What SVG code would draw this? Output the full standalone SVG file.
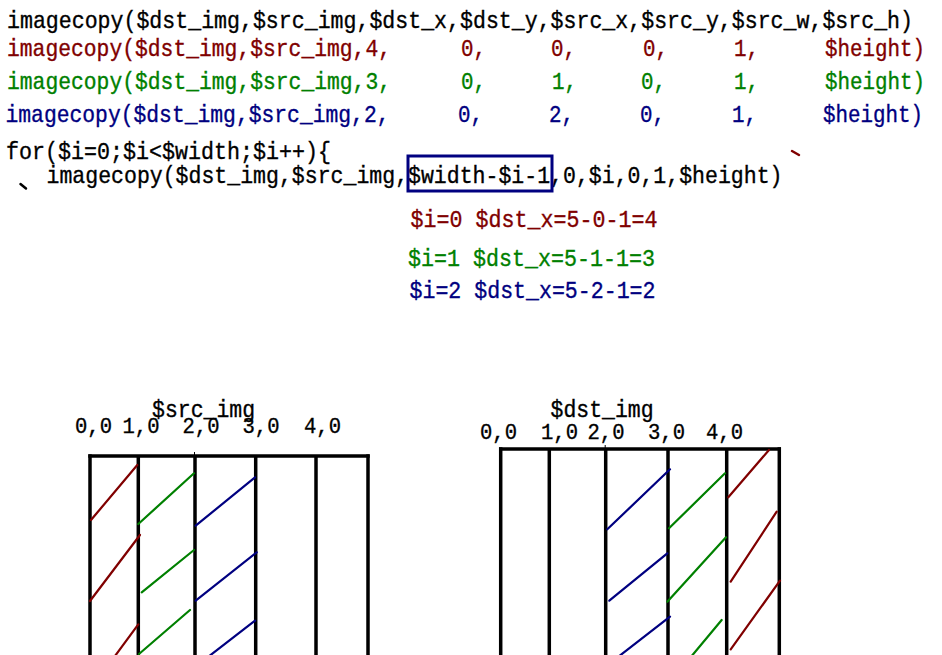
<svg xmlns="http://www.w3.org/2000/svg" width="942" height="655" viewBox="0 0 942 655">
<style>
text{font-family:"Liberation Mono","DejaVu Sans Mono",monospace;font-size:24px;stroke-width:0.35;}
text.lbl{font-size:22px;}
.k{fill:#000000;stroke:#000000}
.r{fill:#800000;stroke:#800000}
.g{fill:#008000;stroke:#008000}
.b{fill:#000080;stroke:#000080}
.grid line{stroke:#000;stroke-width:3.5}
.tick{stroke:#000;stroke-width:1}
.dr{stroke:#800000;stroke-width:2.2;stroke-linecap:round}
.dg{stroke:#008000;stroke-width:2.2;stroke-linecap:round}
.db{stroke:#000080;stroke-width:2.2;stroke-linecap:round}
</style>
<rect width="942" height="655" fill="#ffffff"/>
<g id="code">
<text class="k" x="7" y="27.5" textLength="906" lengthAdjust="spacingAndGlyphs">imagecopy($dst_img,$src_img,$dst_x,$dst_y,$src_x,$src_y,$src_w,$src_h)</text>
<g class="r">
<text x="7" y="56" textLength="384" lengthAdjust="spacingAndGlyphs">imagecopy($dst_img,$src_img,4,</text>
<text x="461" y="56" textLength="25" lengthAdjust="spacingAndGlyphs">0,</text>
<text x="551" y="56" textLength="25" lengthAdjust="spacingAndGlyphs">0,</text>
<text x="643" y="56" textLength="25" lengthAdjust="spacingAndGlyphs">0,</text>
<text x="734" y="56" textLength="25" lengthAdjust="spacingAndGlyphs">1,</text>
<text x="825" y="56" textLength="100" lengthAdjust="spacingAndGlyphs">$height)</text>
</g>
<g class="g">
<text x="7" y="89" textLength="384" lengthAdjust="spacingAndGlyphs">imagecopy($dst_img,$src_img,3,</text>
<text x="461" y="89" textLength="25" lengthAdjust="spacingAndGlyphs">0,</text>
<text x="552" y="89" textLength="25" lengthAdjust="spacingAndGlyphs">1,</text>
<text x="641" y="89" textLength="25" lengthAdjust="spacingAndGlyphs">0,</text>
<text x="734" y="89" textLength="25" lengthAdjust="spacingAndGlyphs">1,</text>
<text x="825" y="89" textLength="100" lengthAdjust="spacingAndGlyphs">$height)</text>
</g>
<g class="b">
<text x="5.5" y="122" textLength="384" lengthAdjust="spacingAndGlyphs">imagecopy($dst_img,$src_img,2,</text>
<text x="458" y="122" textLength="25" lengthAdjust="spacingAndGlyphs">0,</text>
<text x="549" y="122" textLength="25" lengthAdjust="spacingAndGlyphs">2,</text>
<text x="640" y="122" textLength="25" lengthAdjust="spacingAndGlyphs">0,</text>
<text x="732" y="122" textLength="25" lengthAdjust="spacingAndGlyphs">1,</text>
<text x="823" y="122" textLength="100" lengthAdjust="spacingAndGlyphs">$height)</text>
</g>
<text class="k" x="6" y="159" textLength="325" lengthAdjust="spacingAndGlyphs">for($i=0;$i&lt;$width;$i++){</text>
<text class="k" x="46.5" y="183" textLength="736" lengthAdjust="spacingAndGlyphs">imagecopy($dst_img,$src_img,$width-$i-1,0,$i,0,1,$height)</text>
<rect x="408" y="156" width="144" height="35" fill="none" stroke="#000080" stroke-width="3"/>
</g>
<g id="calc">
<text class="r" x="410.5" y="227" textLength="247" lengthAdjust="spacingAndGlyphs">$i=0 $dst_x=5-0-1=4</text>
<text class="g" x="408" y="266" textLength="247" lengthAdjust="spacingAndGlyphs">$i=1 $dst_x=5-1-1=3</text>
<text class="b" x="409.5" y="298" textLength="246" lengthAdjust="spacingAndGlyphs">$i=2 $dst_x=5-2-1=2</text>
</g>
<g id="marks">
<line x1="20.5" y1="184" x2="26" y2="188.5" stroke="#000" stroke-width="2.5" stroke-linecap="round"/>
<line x1="792" y1="151" x2="799" y2="155" stroke="#800000" stroke-width="2.5" stroke-linecap="round"/>
</g>
<g id="src_img">
<text class="k" x="152" y="417" textLength="103" lengthAdjust="spacingAndGlyphs">$src_img</text>
<text class="k lbl" x="75" y="433" textLength="37" lengthAdjust="spacingAndGlyphs">0,0</text>
<text class="k lbl" x="122.5" y="433" textLength="37" lengthAdjust="spacingAndGlyphs">1,0</text>
<text class="k lbl" x="182.5" y="433" textLength="37" lengthAdjust="spacingAndGlyphs">2,0</text>
<text class="k lbl" x="242.5" y="433" textLength="37" lengthAdjust="spacingAndGlyphs">3,0</text>
<text class="k lbl" x="304" y="433" textLength="37" lengthAdjust="spacingAndGlyphs">4,0</text>
<g class="grid">
<line x1="88.3" y1="456" x2="369.7" y2="456"/>
<line x1="90" y1="454.3" x2="90" y2="655"/>
<line x1="138.3" y1="456" x2="138.3" y2="655"/>
<line x1="195" y1="456" x2="195" y2="655"/>
<line x1="255.7" y1="456" x2="255.7" y2="655"/>
<line x1="316" y1="456" x2="316" y2="655"/>
<line x1="368" y1="454.3" x2="368" y2="655"/>
</g>
<line class="tick" x1="194.5" y1="452" x2="194.5" y2="456"/>
<line class="dr" x1="91" y1="520" x2="137.3" y2="465"/>
<line class="dr" x1="90" y1="601" x2="140" y2="535"/>
<line class="dr" x1="115" y1="656" x2="138.3" y2="624.3"/>
<line class="dg" x1="138.3" y1="524" x2="194" y2="473.3"/>
<line class="dg" x1="141.7" y1="592.3" x2="194" y2="550"/>
<line class="dg" x1="139" y1="654" x2="190" y2="610"/>
<line class="db" x1="195.7" y1="525.7" x2="255" y2="477.3"/>
<line class="db" x1="195.7" y1="600.7" x2="256.7" y2="552.3"/>
<line class="db" x1="209.3" y1="656" x2="255" y2="620.7"/>
</g>
<g id="dst_img">
<text class="k" x="550.5" y="417" textLength="103" lengthAdjust="spacingAndGlyphs">$dst_img</text>
<text class="k lbl" x="480" y="439" textLength="37" lengthAdjust="spacingAndGlyphs">0,0</text>
<text class="k lbl" x="541" y="439" textLength="37" lengthAdjust="spacingAndGlyphs">1,0</text>
<text class="k lbl" x="587.5" y="439" textLength="37" lengthAdjust="spacingAndGlyphs">2,0</text>
<text class="k lbl" x="648" y="439" textLength="37" lengthAdjust="spacingAndGlyphs">3,0</text>
<text class="k lbl" x="706" y="439" textLength="37" lengthAdjust="spacingAndGlyphs">4,0</text>
<g class="grid">
<line x1="499" y1="449" x2="781" y2="449"/>
<line x1="500.7" y1="447.3" x2="500.7" y2="655"/>
<line x1="549.3" y1="449" x2="549.3" y2="655"/>
<line x1="605.7" y1="449" x2="605.7" y2="655"/>
<line x1="668" y1="449" x2="668" y2="655"/>
<line x1="726.7" y1="449" x2="726.7" y2="655"/>
<line x1="779.3" y1="447.3" x2="779.3" y2="655"/>
</g>
<line class="tick" x1="605.2" y1="445" x2="605.2" y2="449"/>
<line class="db" x1="607.3" y1="529.3" x2="670" y2="469.3"/>
<line class="db" x1="609.3" y1="600.7" x2="667.3" y2="553.3"/>
<line class="db" x1="619.3" y1="656" x2="670" y2="616.7"/>
<line class="dg" x1="669" y1="528.3" x2="725" y2="473.3"/>
<line class="dg" x1="667.3" y1="601.7" x2="726" y2="537.3"/>
<line class="dg" x1="691.7" y1="656" x2="721.7" y2="620"/>
<line class="dr" x1="728.3" y1="497.3" x2="769" y2="450"/>
<line class="dr" x1="730.7" y1="581.7" x2="776.7" y2="511.7"/>
<line class="dr" x1="730.7" y1="649.3" x2="780" y2="580.7"/>
</g>
</svg>
